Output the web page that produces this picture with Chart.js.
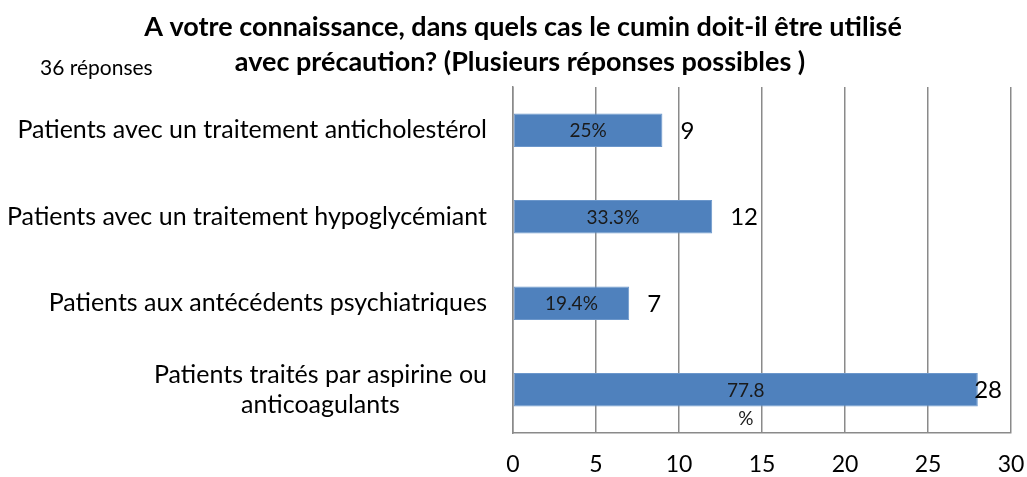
<!DOCTYPE html>
<html>
<head>
<meta charset="utf-8">
<script src="https://cdn.jsdelivr.net/npm/chart.js@4.4.1/dist/chart.umd.min.js"></script>
<style>
  body { margin: 0; background: #fff; }
  #wrap { width: 1027px; height: 477px; }
</style>
</head>
<body>
<div id="wrap"><canvas id="chart" width="1027" height="477"></canvas></div>
<script>
// data
var categories = [
    ['Patients avec un traitement anticholestérol'],
    ['Patients avec un traitement hypoglycémiant'],
    ['Patients aux antécédents psychiatriques'],
    ['Patients traités par aspirine ou', 'anticoagulants']
];
var counts = [9, 12, 7, 28];
var pctLabels = [['25%'], ['33.3%'], ['19.4%'], ['77.8', '%']];
var xTicks = [0, 5, 10, 15, 20, 25, 30];
var titleLines = [
    'A votre connaissance, dans quels cas le cumin doit-il être utilisé',
    'avec précaution? (Plusieurs réponses possibles )'
];
var subTitle = '36 réponses';

var FONT = 'Lato, "Open Sans", sans-serif';
var PLOT_LEFT = 513;

// title, sub text, category labels and value labels
var textPlugin = {
    id: 'texts',
    afterDraw: function(chart) {
        var ctx = chart.ctx;
        var area = chart.chartArea;
        ctx.save();
        ctx.fillStyle = '#000';
        ctx.textBaseline = 'middle';

        // title
        ctx.font = 'bold 27px ' + FONT;
        ctx.textAlign = 'center';
        ctx.fillText(titleLines[0], 523, 27);
        ctx.fillText(titleLines[1], 520, 62);

        ctx.font = '21px ' + FONT;
        ctx.textAlign = 'left';
        ctx.fillText(subTitle, 40, 68);

        // category labels, multi-line ones centred under the first line
        var yScale = chart.scales.y;
        ctx.font = '25px ' + FONT;
        categories.forEach(function(lines, i) {
            var y = yScale.getPixelForTick(i);
            var right = PLOT_LEFT - 26;
            if (lines.length === 1) {
                ctx.textAlign = 'right';
                ctx.fillText(lines[0], right, y);
            } else {
                var w = ctx.measureText(lines[0]).width;
                var cx = right - w / 2;
                ctx.textAlign = 'center';
                lines.forEach(function(l, k) {
                    ctx.fillText(l, cx, y + (k - (lines.length - 1) / 2) * 30);
                });
            }
        });

        // values on the bars
        var meta = chart.getDatasetMeta(0);
        meta.data.forEach(function(bar, i) {
            var mid = (bar.base + bar.x) / 2;
            ctx.font = '19px ' + FONT;
            ctx.fillStyle = '#1a1a1a';
            ctx.textAlign = 'center';
            pctLabels[i].forEach(function(l, k) {
                ctx.fillText(l, mid, bar.y + 1 + k * 28);
            });

            ctx.font = '24px ' + FONT;
            ctx.fillStyle = '#000';
            ctx.textAlign = 'left';
            var txt = String(counts[i]);
            var tw = ctx.measureText(txt).width;
            var tx = Math.min(bar.x + 18, area.right - tw - 9);
            ctx.fillText(txt, tx, bar.y + 1);
        });
        ctx.restore();
    }
};

new Chart(document.getElementById('chart'), {
    type: 'bar',
    data: {
        labels: categories,
        datasets: [{
            data: counts,
            backgroundColor: '#4F81BD',
            borderColor: '#6C97CB',
            borderWidth: 1,
            borderSkipped: false,
            categoryPercentage: 1,
            barPercentage: 0.39
        }]
    },
    options: {
        indexAxis: 'y',
        responsive: false,
        animation: false,
        devicePixelRatio: 1,
        layout: { padding: { top: 87, left: 0, right: 16, bottom: 0 } },
        plugins: {
            legend: { display: false },
            title: { display: false },
            tooltip: { enabled: false }
        },
        scales: {
            x: {
                min: 0,
                max: 30,
                afterBuildTicks: function(scale) {
                    scale.ticks = xTicks.map(function(v) { return { value: v }; });
                },
                afterFit: function(scale) {
                    scale.height = 44;
                    scale.paddingLeft = 0;
                    scale.paddingRight = 0;
                },
                grid: { color: '#8a8a8a', lineWidth: 1.5, drawTicks: false },
                border: { color: '#8a8a8a', width: 1.5 },
                ticks: { color: '#000', padding: 18, font: { family: FONT, size: 23 } }
            },
            y: {
                afterFit: function(scale) { scale.width = PLOT_LEFT; },
                grid: { display: false, drawTicks: false },
                border: { color: '#8a8a8a', width: 1.5 },
                ticks: { display: false }
            }
        }
    },
    plugins: [textPlugin]
});
</script>
</body>
</html>
